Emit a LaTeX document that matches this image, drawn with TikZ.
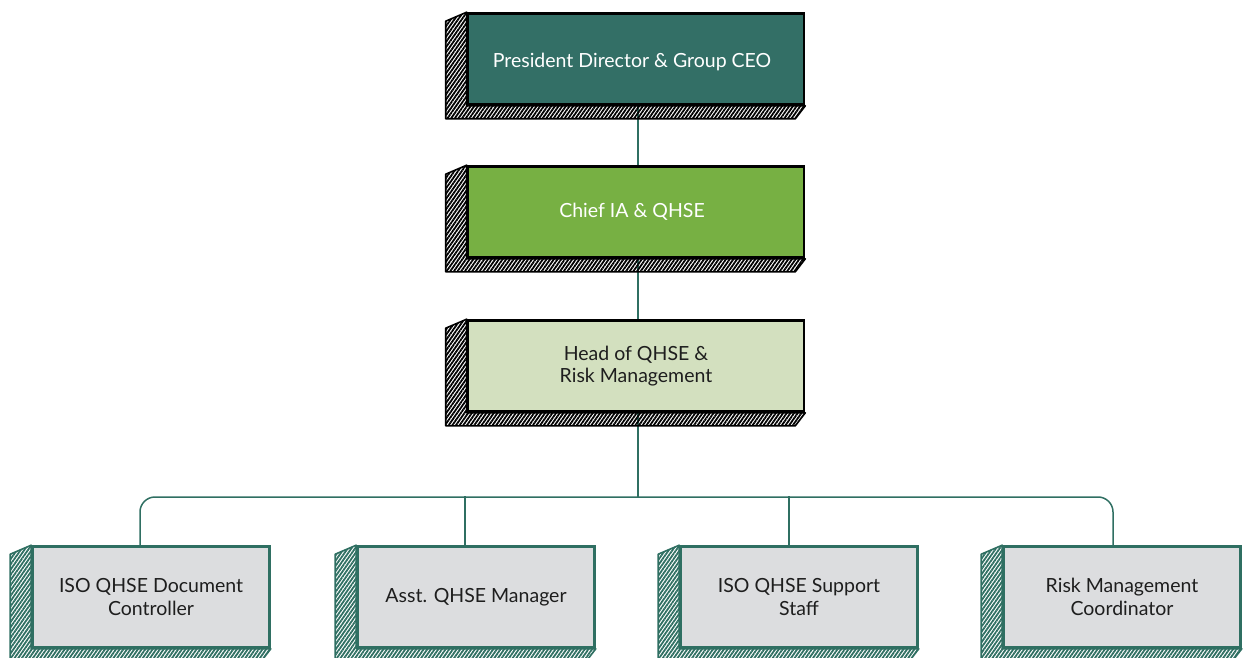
\documentclass[tikz,border=0pt]{standalone}
\usepackage{fontspec}
\setmainfont{Lato}
\usetikzlibrary{patterns.meta,backgrounds,calc}
\definecolor{ceoc}{HTML}{336F66}
\definecolor{chiefc}{HTML}{77B043}
\definecolor{headc}{HTML}{D3E0BF}
\definecolor{staffc}{HTML}{DCDDDF}
\definecolor{tealc}{HTML}{2F6F62}
\definecolor{txtc}{HTML}{1E1E1E}
\tikzset{
  topbox/.style={draw=black, line width=2.6pt, minimum width=336pt, minimum height=91pt, inner sep=0pt, align=center, font=\fontsize{19.5}{22.5}\selectfont},
  staffbox/.style={draw=tealc, line width=2.6pt, minimum width=237pt, minimum height=101pt, inner sep=0pt, align=center, text=txtc, font=\fontsize{19.5}{22.5}\selectfont},
  hatchblack/.style={draw=black, line width=1.6pt, line join=round, pattern={Lines[angle=55,distance=3pt,line width=1.8pt]}, pattern color=black},
  hatchteal/.style={draw=tealc, line width=1.6pt, line join=round, pattern={Lines[angle=55,distance=3pt,line width=1.8pt]}, pattern color=tealc},
  conn/.style={draw=tealc, line width=1.5pt}
}
\newcommand\extrude[2]{%
  \draw[#2] (#1.north west) -- ++(-21,9) -- ($(#1.south west)+(-21,13)$) -- ($(#1.south east)+(-10,13)$) -- (#1.south east) -- (#1.south west) -- cycle;}
\begin{document}
\begin{tikzpicture}[x=1pt,y=-1pt]
\useasboundingbox (0,0) rectangle (1243,658);
\clip (0,0) rectangle (1243,658);
\node[topbox, fill=ceoc, text=white] (ceo) at (636,59) {\raisebox{-4pt}[14pt][5pt]{President Director \& Group CEO}\hspace{8pt}};
\node[topbox, fill=chiefc, text=white] (chief) at (636,212) {Chief IA \& QHSE\hspace{8pt}};
\node[topbox, fill=headc, text=txtc] (head) at (636,366) {Head of QHSE \&\hspace{8pt}\\Risk Management\hspace{8pt}};
\node[staffbox, fill=staffc] (d1) at (151,597) {ISO QHSE Document\\Controller};
\node[staffbox, fill=staffc] (d2) at (476,597) {Asst. QHSE Manager};
\node[staffbox, fill=staffc] (d3) at (799,597) {ISO QHSE Support\\Staff};
\node[staffbox, fill=staffc] (d4) at (1122,597) {Risk Management\\Coordinator};
\coordinate (bus) at (638,497);
\begin{scope}[on background layer]
  \draw[conn] ($(ceo.south)+(2,0)$) -- ($(chief.north)+(2,0)$);
  \draw[conn] ($(chief.south)+(2,0)$) -- ($(head.north)+(2,0)$);
  \draw[conn] ($(head.south)+(2,0)$) -- (bus);
  \draw[conn, rounded corners=15pt] ($(d1.north)+(-11,0)$) |- (bus) -| ($(d4.north)+(-9,0)$);
  \draw[conn] ($(d2.north)+(-11,0)$) -- ($(d2.north)+(-11,-49)$);
  \draw[conn] ($(d3.north)+(-10,0)$) -- ($(d3.north)+(-10,-49)$);
  \extrude{ceo}{hatchblack}
  \extrude{chief}{hatchblack}
  \extrude{head}{hatchblack}
  \extrude{d1}{hatchteal}
  \extrude{d2}{hatchteal}
  \extrude{d3}{hatchteal}
  \extrude{d4}{hatchteal}
\end{scope}
\end{tikzpicture}
\end{document}
